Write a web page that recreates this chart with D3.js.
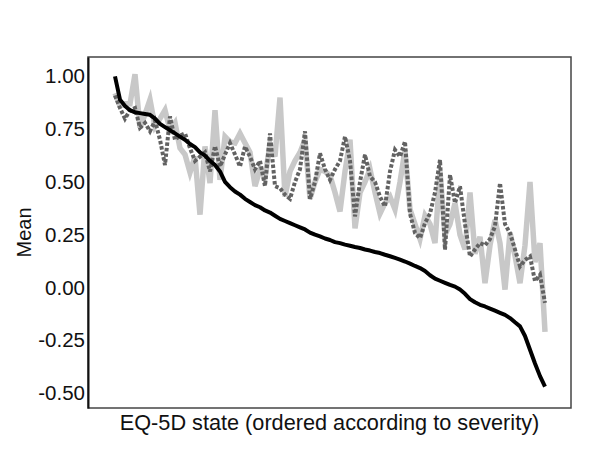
<!DOCTYPE html>
<html>
<head>
<meta charset="utf-8">
<script src="https://cdn.jsdelivr.net/npm/d3@7"></script>
<style>
  body { margin: 0; background: #fff; }
  svg text { font-family: "Liberation Sans", Arial, sans-serif; fill: #111; }
</style>
</head>
<body>
<svg id="chart" width="600" height="471"></svg>
<script>
// Mean values per EQ-5D state, states ordered by severity (index 0..86)
const tickValues = [-0.50, -0.25, 0.00, 0.25, 0.50, 0.75, 1.00];

// black solid line
const seriesBlack = [
  1.00, 0.89, 0.86, 0.84, 0.83, 0.826, 0.822, 0.818, 0.80, 0.775,
  0.76, 0.745, 0.73, 0.715, 0.70, 0.68, 0.665, 0.64, 0.625, 0.60,
  0.58, 0.55, 0.50, 0.475, 0.455, 0.44, 0.42, 0.405, 0.39, 0.38,
  0.365, 0.355, 0.34, 0.325, 0.315, 0.305, 0.295, 0.285, 0.275, 0.26,
  0.25, 0.242, 0.232, 0.225, 0.215, 0.21, 0.203, 0.198, 0.192, 0.187,
  0.18, 0.175, 0.168, 0.163, 0.155, 0.148, 0.14, 0.132, 0.123, 0.113,
  0.102, 0.092, 0.078, 0.058, 0.042, 0.032, 0.022, 0.012, 0.004, -0.01,
  -0.03, -0.055, -0.07, -0.082, -0.09, -0.10, -0.11, -0.12, -0.13, -0.145,
  -0.165, -0.184, -0.23, -0.295, -0.36, -0.42, -0.47
];

// dark grey dotted line
const seriesDark = [
  0.91, 0.85, 0.80, 0.84, 0.85, 0.757, 0.78, 0.74, 0.79, 0.70,
  0.58, 0.81, 0.70, 0.72, 0.73, 0.66, 0.60, 0.62, 0.64, 0.55,
  0.67, 0.573, 0.63, 0.684, 0.63, 0.573, 0.668, 0.62, 0.56, 0.60,
  0.48, 0.73, 0.48, 0.47, 0.44, 0.42, 0.50, 0.56, 0.74, 0.42,
  0.50, 0.636, 0.56, 0.51, 0.56, 0.60, 0.715, 0.60, 0.337, 0.50,
  0.629, 0.526, 0.50, 0.43, 0.384, 0.55, 0.652, 0.62, 0.692, 0.35,
  0.258, 0.234, 0.305, 0.35, 0.45, 0.605, 0.179, 0.534, 0.40, 0.479,
  0.30, 0.147, 0.18, 0.21, 0.20, 0.23, 0.29, 0.495, 0.30, 0.258,
  0.18, 0.10, 0.13, 0.147, 0.03, 0.06, -0.073
];

// light grey solid line
const seriesLight = [
  0.92, 0.86, 0.87, 0.87, 1.01, 0.757, 0.82, 0.89, 0.763, 0.80,
  0.84, 0.747, 0.78, 0.66, 0.63, 0.545, 0.62, 0.345, 0.668, 0.495,
  0.84, 0.51, 0.715, 0.69, 0.684, 0.73, 0.684, 0.64, 0.48, 0.56,
  0.52, 0.68, 0.62, 0.90, 0.43, 0.55, 0.60, 0.64, 0.70, 0.42,
  0.50, 0.56, 0.55, 0.53, 0.45, 0.36, 0.55, 0.70, 0.28, 0.45,
  0.50, 0.56, 0.45, 0.35, 0.40, 0.43, 0.37, 0.50, 0.65, 0.37,
  0.30, 0.23, 0.34, 0.30, 0.21, 0.55, 0.25, 0.30, 0.40, 0.25,
  0.18, 0.45, 0.16, 0.24, 0.02, 0.20, 0.32, 0.21, -0.01, 0.26,
  0.15, 0.02, 0.20, 0.50, 0.12, 0.21, -0.21
];

const margin = { top: 57, left: 88 };
const width = 483;
const height = 351;

const svg = d3.select('#chart');
const g = svg.append('g').attr('transform', `translate(${margin.left},${margin.top})`);

const n = seriesBlack.length;
const x = d3.scaleLinear().domain([0, n - 1]).range([27, width - 26]);
const y = d3.scaleLinear().domain([-0.571, 1.092]).range([height, 0]);

// plain hyphen for negative numbers, as in the original
const fmt = d3.formatLocale({ decimal: '.', thousands: ',', grouping: [3], currency: ['', ''], minus: '-' }).format('.2f');

// plot frame
g.append('rect')
  .attr('width', width)
  .attr('height', height)
  .attr('fill', 'none')
  .attr('stroke', '#444')
  .attr('stroke-width', 1.5);

// y axis labels (no tick marks)
const yAxis = g.append('g')
  .call(d3.axisLeft(y).tickValues(tickValues).tickSize(0).tickPadding(3).tickFormat(fmt));
yAxis.select('.domain').attr('stroke', '#111').attr('stroke-width', 2);
yAxis.selectAll('text').style('font-size', '20.5px').attr('fill', '#111');

const line = data => d3.line().x((d, i) => x(i)).y(d => y(d))(data);

g.append('path')
  .attr('d', line(seriesLight))
  .attr('fill', 'none')
  .attr('stroke', '#c8c8c8')
  .attr('stroke-width', 5.5);

g.append('path')
  .attr('d', line(seriesDark))
  .attr('fill', 'none')
  .attr('stroke', '#626262')
  .attr('stroke-width', 4)
  .attr('stroke-dasharray', '3.5,2');

g.append('path')
  .attr('d', line(seriesBlack))
  .attr('fill', 'none')
  .attr('stroke', '#000')
  .attr('stroke-width', 4)
  .attr('stroke-linejoin', 'round');

// axis titles
svg.append('text')
  .attr('x', margin.left + width / 2)
  .attr('y', 430)
  .attr('text-anchor', 'middle')
  .style('font-size', '21.7px')
  .text('EQ-5D state (ordered according to severity)');

svg.append('text')
  .attr('transform', `translate(31,${margin.top + height / 2}) rotate(-90)`)
  .attr('text-anchor', 'middle')
  .style('font-size', '20px')
  .text('Mean');
</script>
</body>
</html>
